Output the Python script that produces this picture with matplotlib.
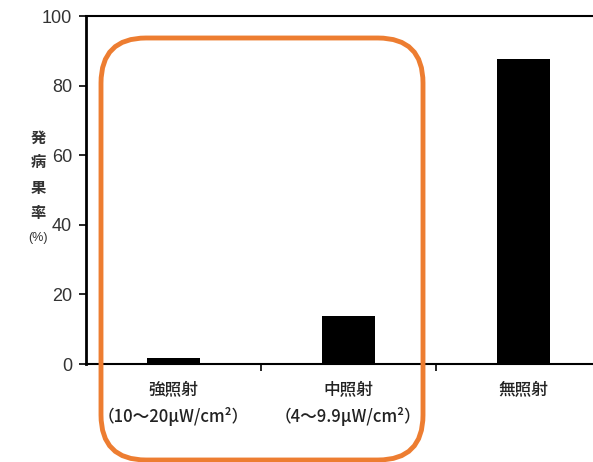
import matplotlib.pyplot as plt
from matplotlib.patches import FancyBboxPatch

plt.rcParams['font.family'] = ['Liberation Sans', 'Noto Sans CJK JP', 'DejaVu Sans']

# incidence rate (%) under each UV irradiation level
labels = ["強照射\n（10～20μW/cm²）", "中照射\n（4～9.9μW/cm²）", "無照射\n"]
rates = [1.7, 13.8, 87.6]

fig = plt.figure(figsize=(5.93, 4.62), dpi=100)
ax = fig.add_axes([0.145, 0.212, 0.885, 0.753])

x = range(len(rates))
ax.bar(x, rates, width=0.3, color='black')

ax.set_xlim(-0.5, 2.5)
ax.set_ylim(0, 100)
ax.set_yticks([0, 20, 40, 60, 80, 100])
ax.set_xticks([0.5, 1.5])
ax.set_xticklabels([])
ax.tick_params(axis='y', direction='out', length=5, width=1.2, labelsize=13,
               labelcolor='#333333', pad=5)
ax.tick_params(axis='x', direction='out', length=5, width=1.2)

ax.spines['left'].set_linewidth(2)
for s in ['bottom', 'top']:
    ax.spines[s].set_linewidth(1.5)
ax.spines['right'].set_visible(False)

# category names under the axis
for i, lab in enumerate(labels):
    ax.text(i, -4.5, lab, ha='center', va='top', fontsize=12, color='#222222',
            linespacing=1.6, weight='medium',
            family=['Noto Sans CJK JP', 'DejaVu Sans'])

# stacked vertical y label
fig.text(38, 287, "発\n病\n果\n率", transform=None, ha='center', va='center',
         fontsize=11, color='#333333', linespacing=1.7, weight='bold',
         family=['Noto Sans CJK JP', 'DejaVu Sans'])
fig.text(38, 224, "(%)", transform=None, ha='center', va='center',
         fontsize=9, color='#333333')

# rounded frame highlighting the irradiated groups
frame = FancyBboxPatch((101, 2), 322, 422,
                       boxstyle="round,pad=0,rounding_size=45",
                       transform=None, fill=False, edgecolor='#ED7D31',
                       linewidth=3.5, clip_on=False)
fig.patches.append(frame)

fig.savefig("out.png", dpi=100)
